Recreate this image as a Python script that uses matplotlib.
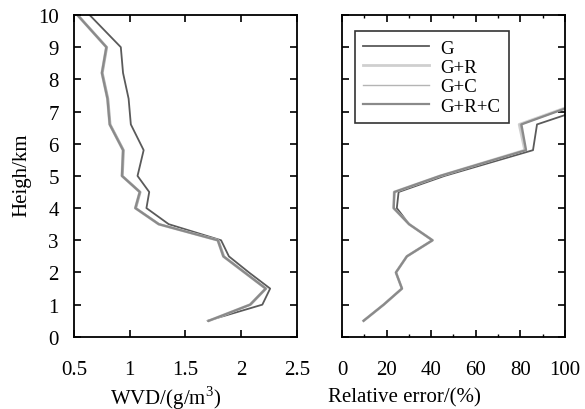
import matplotlib
matplotlib.use("Agg")
import matplotlib.pyplot as plt
from matplotlib.ticker import MultipleLocator

plt.rcParams['font.family'] = ['Liberation Serif', 'DejaVu Serif']
plt.rcParams['mathtext.fontset'] = 'custom'
plt.rcParams['mathtext.rm'] = 'Liberation Serif'

# ---- data ----
heights = [0.5, 1, 1.5, 2, 2.5, 3, 3.5, 4, 4.5, 5, 5.8, 6.6, 7.4, 8.2, 9, 10]
wvd_G = [1.70, 2.19, 2.26, 2.07, 1.89, 1.82, 1.35, 1.15, 1.175, 1.07, 1.125, 1.01, 0.99, 0.94, 0.92, 0.64]
wvd_GR = [1.71, 2.08, 2.22, 2.03, 1.84, 1.79, 1.26, 1.05, 1.09, 0.93, 0.94, 0.82, 0.80, 0.75, 0.79, 0.53]
wvd_GC = [1.71, 2.09, 2.23, 2.04, 1.85, 1.80, 1.27, 1.06, 1.10, 0.94, 0.95, 0.83, 0.81, 0.76, 0.80, 0.54]
wvd_GRC = [1.71, 2.08, 2.22, 2.03, 1.84, 1.79, 1.26, 1.05, 1.09, 0.93, 0.94, 0.82, 0.80, 0.75, 0.79, 0.53]

err_heights = [0.5, 1, 1.5, 2, 2.5, 3, 3.5, 4, 4.5, 5, 5.8, 6.6, 7.4]
err_G = [9.7, 18.7, 26.9, 24.2, 29.1, 40.6, 30.1, 24.6, 25.4, 46, 85.7, 87.5, 122]
err_GR = [9.7, 18.7, 26.9, 24.2, 29.1, 40.6, 30.1, 23.1, 23.4, 44, 82.0, 79.5, 111.7]
err_GC = [9.7, 18.7, 26.9, 24.2, 29.1, 40.6, 30.1, 23.3, 23.6, 44, 82.3, 80.0, 112.0]
err_GRC = [9.7, 18.7, 26.9, 24.2, 29.1, 40.6, 30.1, 23.2, 23.5, 44, 82.6, 80.5, 112.3]

labels = ['G', 'G+R', 'G+C', 'G+R+C']
colors = ['#5a5a5a', '#cfcfcf', '#b4b4b4', '#8a8a8a']
widths = [1.3, 2.0, 1.0, 1.6]

fig = plt.figure(figsize=(5.85, 4.10), dpi=100)
ax1 = fig.add_axes([0.1265, 0.176, 0.381, 0.785])
ax2 = fig.add_axes([0.5846, 0.176, 0.381, 0.785])

for vals, lab, c, w in zip([wvd_G, wvd_GR, wvd_GC, wvd_GRC], labels, colors, widths):
    ax1.plot(vals, heights, color=c, lw=w, label=lab)
for vals, lab, c, w in zip([err_G, err_GR, err_GC, err_GRC], labels, colors, widths):
    ax2.plot(vals, err_heights, color=c, lw=w, label=lab)

ax1.set_xlim(0.5, 2.5)
ax1.set_ylim(0, 10)
ax1.yaxis.set_major_locator(MultipleLocator(1))
ax1.set_xticks([0.5, 1, 1.5, 2, 2.5])
ax1.set_xticklabels(['0.5', '1', '1.5', '2', '2.5'])

ax2.set_xlim(0, 100)
ax2.set_ylim(0, 10)
ax2.xaxis.set_major_locator(MultipleLocator(20))
ax2.xaxis.set_minor_locator(MultipleLocator(10))
ax2.yaxis.set_major_locator(MultipleLocator(1))
ax2.set_yticklabels([])

for ax in (ax1, ax2):
    ax.tick_params(axis='both', which='major', direction='in', top=True, right=True,
                   length=5, width=1.2, labelsize=15)
    ax.tick_params(axis='x', which='major', pad=17)
    ax.tick_params(axis='y', which='major', pad=11)
    ax.tick_params(axis='both', which='minor', direction='in', top=True, right=True,
                   length=2.5, width=1.0)
    for s in ax.spines.values():
        s.set_linewidth(1.3)

ax1.set_xlabel('WVD/(g/m$^{3}$)', fontsize=15)
ax2.set_xlabel('Relative error/(%)', fontsize=15)
ax1.set_ylabel('Heigh/km', fontsize=15)
ax1.xaxis.set_label_coords(0.41, -0.186)
ax2.xaxis.set_label_coords(0.278, -0.186)
ax1.yaxis.set_label_coords(-0.235, 0.506)
ax1.xaxis.label.set_va('center')
ax2.xaxis.label.set_va('center')
ax1.yaxis.label.set_va('center')

leg = ax2.legend(loc='upper left', bbox_to_anchor=(0.058, 0.95), fontsize=13.5,
                 frameon=True, fancybox=False, edgecolor='black', handlelength=3.5,
                 borderpad=0.45, labelspacing=0.12, handletextpad=0.6, borderaxespad=0)
leg.get_frame().set_linewidth(1.2)

fig.savefig('out.png', dpi=100)
